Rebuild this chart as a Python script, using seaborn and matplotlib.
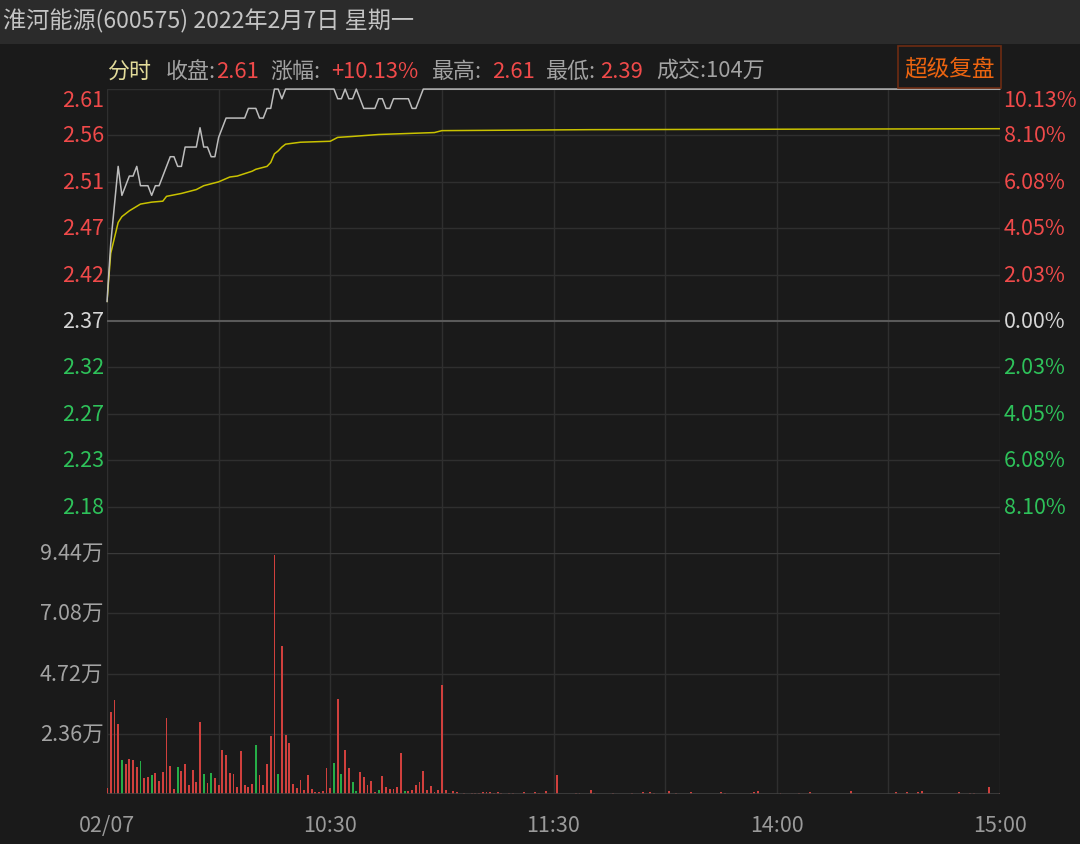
import pandas as pd
import seaborn as sns
import matplotlib.pyplot as plt
from matplotlib.patches import Rectangle

sns.set_style("dark")
plt.rcParams['font.family'] = ['Noto Sans CJK SC', 'DejaVu Sans']

# ---------------- data (minute 0 = 09:30, 240 = 15:00) ----------------
prev_close = 2.37

# minute prices, 0..85, then flat at limit-up until close
price_minutes = list(range(86)) + [240]
price_values = [2.39, 2.45, 2.49, 2.53, 2.50, 2.51, 2.52, 2.52, 2.53, 2.51,
                2.51, 2.51, 2.50, 2.51, 2.51, 2.52, 2.53, 2.54, 2.54, 2.53,
                2.53, 2.55, 2.55, 2.55, 2.55, 2.57, 2.55, 2.55, 2.54, 2.54,
                2.56, 2.57, 2.58, 2.58, 2.58, 2.58, 2.58, 2.58, 2.59, 2.59,
                2.59, 2.58, 2.58, 2.59, 2.59, 2.61, 2.61, 2.60, 2.61, 2.61,
                2.61, 2.61, 2.61, 2.61, 2.61, 2.61, 2.61, 2.61, 2.61, 2.61,
                2.61, 2.61, 2.60, 2.60, 2.61, 2.60, 2.60, 2.61, 2.60, 2.59,
                2.59, 2.59, 2.59, 2.60, 2.60, 2.59, 2.59, 2.60, 2.60, 2.60,
                2.60, 2.60, 2.59, 2.59, 2.60, 2.61, 2.61]

# average price line
avg_minutes = [0, 1, 3, 4, 6, 9, 12, 15, 16, 20, 24, 26, 30, 33, 35, 39, 40,
               43, 44, 45, 46, 47, 48, 52, 60, 62, 66, 73, 88, 90, 130, 240]
avg_values = [2.39, 2.44, 2.472, 2.478, 2.484, 2.491, 2.493, 2.494, 2.499,
              2.502, 2.506, 2.510, 2.514, 2.519, 2.520, 2.525, 2.527, 2.530,
              2.534, 2.543, 2.546, 2.550, 2.553, 2.555, 2.556, 2.560, 2.561,
              2.563, 2.565, 2.567, 2.568, 2.569]

# volume per minute (shares), 'r' up / 'g' down
vol_minutes = list(range(95)) + [96, 98, 99, 100, 101, 102, 103, 104, 105, 106,
                                 108, 109, 112, 115, 116, 118, 121, 126, 127, 130,
                                 131, 136, 141, 144, 146, 147, 151, 153, 157, 165,
                                 166, 173, 174, 175, 181, 186, 189, 200, 212, 215,
                                 218, 219, 229, 232, 233, 237, 240]
vol_values = [2350, 32000, 36950, 27400, 13300, 11750, 13580, 13190, 10440, 12930,
              6270, 6790, 7570, 8230, 5220, 8490, 29640, 10970, 1830, 10710,
              9010, 11880, 3660, 9530, 4830, 28330, 7830, 4310, 8230, 6400,
              3520, 17400, 15410, 8230, 7830, 2610, 16710, 3660, 2870, 3920,
              19200, 7440, 3660, 11880, 22850, 93750, 7830, 58100, 23110, 19980,
              3920, 2350, 5480, 1570, 7440, 1960, 650, 650, 1310, 10180,
              2350, 12140, 37210, 7700, 17240, 10180, 4570, 1310, 8490, 6790,
              3660, 4960, 780, 1700, 7050, 2740, 1960, 1960, 2610, 15930,
              1040, 1040, 1570, 3520, 4570, 8880, 1700, 3000, 650, 1570,
              42700, 1700, 390, 1180, 910,
              520, 520, 390, 520, 780, 650, 650, 390, 780, 520,
              520, 520, 780, 650, 520, 1175, 7440, 390, 390, 1570,
              390, 390, 390, 910, 650, 520, 1175, 390, 780, 650,
              520, 520, 650, 1040, 520, 520, 650, 1040, 910, 650,
              650, 1040, 650, 520, 520, 2870, 520]
vol_dir = list("rrrrgrrrrgrrgrrrrrrgrrrrrrgrgrrrrrrrrrrrgrrrrrgrrrrrrrrrrrrrrgrgrrggrrrrrgrrrrrrgrrrrrrrrrrrr") \
          + ["r"] * 47

price_labels = ["2.61", "2.56", "2.51", "2.47", "2.42", "2.37", "2.32", "2.27", "2.23", "2.18"]
pct_values = [10.13, 8.10, 6.08, 4.05, 2.03, 0.0, -2.03, -4.05, -6.08, -8.10]
pct_labels = ["10.13%", "8.10%", "6.08%", "4.05%", "2.03%", "0.00%", "2.03%", "4.05%", "6.08%", "8.10%"]
vol_ticks = [23600, 47200, 70800, 94400]
vol_labels = ["2.36万", "4.72万", "7.08万", "9.44万"]
time_ticks = [0, 60, 120, 180, 240]
time_labels = ["02/07", "10:30", "11:30", "14:00", "15:00"]

# ---------------- style ----------------
bg = "#1a1a1a"
grid_c = "#2f2f2f"
red = "#f04a4a"
green = "#2ec25a"
bar_red = "#d0403d"
bar_green = "#26ad47"
gray_txt = "#a3a3a3"

W, H = 1080, 845
fig = plt.figure(figsize=(W / 100, H / 100), dpi=100, facecolor=bg)

def fx(px):
    return px / W

def fy(py):
    return 1 - py / H

# header bar
fig.patches.append(Rectangle((0, fy(45)), 1, 45 / H, transform=fig.transFigure,
                             facecolor="#2b2b2b", edgecolor="none", zorder=0))
fig.text(fx(3), fy(21), "淮河能源(600575) 2022年2月7日 星期一", color="#c4c4c4",
         fontsize=16.7, va="center", ha="left")

# info line
info = [(107, "分时", "#e3dc9a"), (166, "收盘:", gray_txt), (216, "2.61", red),
        (270, "涨幅:", gray_txt), (331, "+10.13%", red), (432, "最高:", gray_txt),
        (492, "2.61", red), (546, "最低:", gray_txt), (600, "2.39", red),
        (656, "成交:104万", gray_txt)]
for px, txt, col in info:
    fig.text(fx(px), fy(72), txt, color=col, fontsize=15.8, va="center", ha="left")

# button
fig.patches.append(Rectangle((fx(898), fy(89)), (1001 - 898) / W, (89 - 47) / H,
                             transform=fig.transFigure, facecolor="none",
                             edgecolor="#6e2c12", lw=1.2))
fig.text(fx(949.5), fy(69), "超级复盘", color="#ec6410", fontsize=16.3,
         va="center", ha="center")

# ---------------- axes ----------------
left, right = 107, 1000
ax1 = fig.add_axes([fx(left), fy(554), (right - left) / W, (554 - 90) / H])
ax2 = fig.add_axes([fx(left), fy(795), (right - left) / W, (795 - 554) / H])

for ax in (ax1, ax2):
    ax.set_facecolor(bg)
    ax.set_xlim(0, 240)
    for s in ax.spines.values():
        s.set_visible(False)
    ax.set_xticks([])
    ax.set_yticks([])
    for m in range(0, 241, 30):
        ax.axvline(m, color=grid_c, lw=1, zorder=1)

ymin = prev_close * (1 - 0.1013)
ymax = prev_close * (1 + 0.1013)
ax1.set_ylim(ymin, ymax)

levels = [prev_close * (1 + p / 100) for p in pct_values]
for lv, lab, pl, p in zip(levels, price_labels, pct_labels, pct_values):
    col = red if p > 0 else (green if p < 0 else "#d6d6d6")
    ax1.axhline(lv, color="#5a5a5a" if p == 0 else grid_c, lw=1.5 if p == 0 else 1, zorder=1)
    va = "top" if lv == levels[0] else "center"
    ax1.text(-0.003, lv, lab, transform=ax1.get_yaxis_transform(), color=col,
             fontsize=15.5, ha="right", va=va)
    ax1.text(1.004, lv, pl, transform=ax1.get_yaxis_transform(), color=col,
             fontsize=15.5, ha="left", va=va)

price_df = pd.DataFrame({"minute": price_minutes, "price": price_values})
avg_df = pd.DataFrame({"minute": avg_minutes, "avg": avg_values})
sns.lineplot(data=price_df, x="minute", y="price", ax=ax1, color="#bdbdbd",
             lw=1.1, clip_on=False, zorder=4)
sns.lineplot(data=avg_df, x="minute", y="avg", ax=ax1, color="#c9c200",
             lw=1.1, zorder=3)
ax1.set_xlabel("")
ax1.set_ylabel("")

# volume panel
ax2.set_ylim(0, 94400)
for v, lab in zip(vol_ticks, vol_labels):
    ax2.axhline(v, color="#3a3a3a" if v == vol_ticks[-1] else grid_c, lw=1, zorder=1)
    ax2.text(-0.004, v, lab, transform=ax2.get_yaxis_transform(), color=gray_txt,
             fontsize=15.5, ha="right", va="center")
ax2.axhline(0, color="#404040", lw=1.2, zorder=3)
bar_cols = [bar_red if d == "r" else bar_green for d in vol_dir]
ax2.bar(vol_minutes, vol_values, width=0.5, color=bar_cols, lw=0, zorder=2)

for t, lab in zip(time_ticks, time_labels):
    ax2.text(t, -0.13, lab, transform=ax2.get_xaxis_transform(), color="#9a9a9a",
             fontsize=15.5, ha="center", va="center")

fig.savefig("out.png", dpi=100, facecolor=bg)
